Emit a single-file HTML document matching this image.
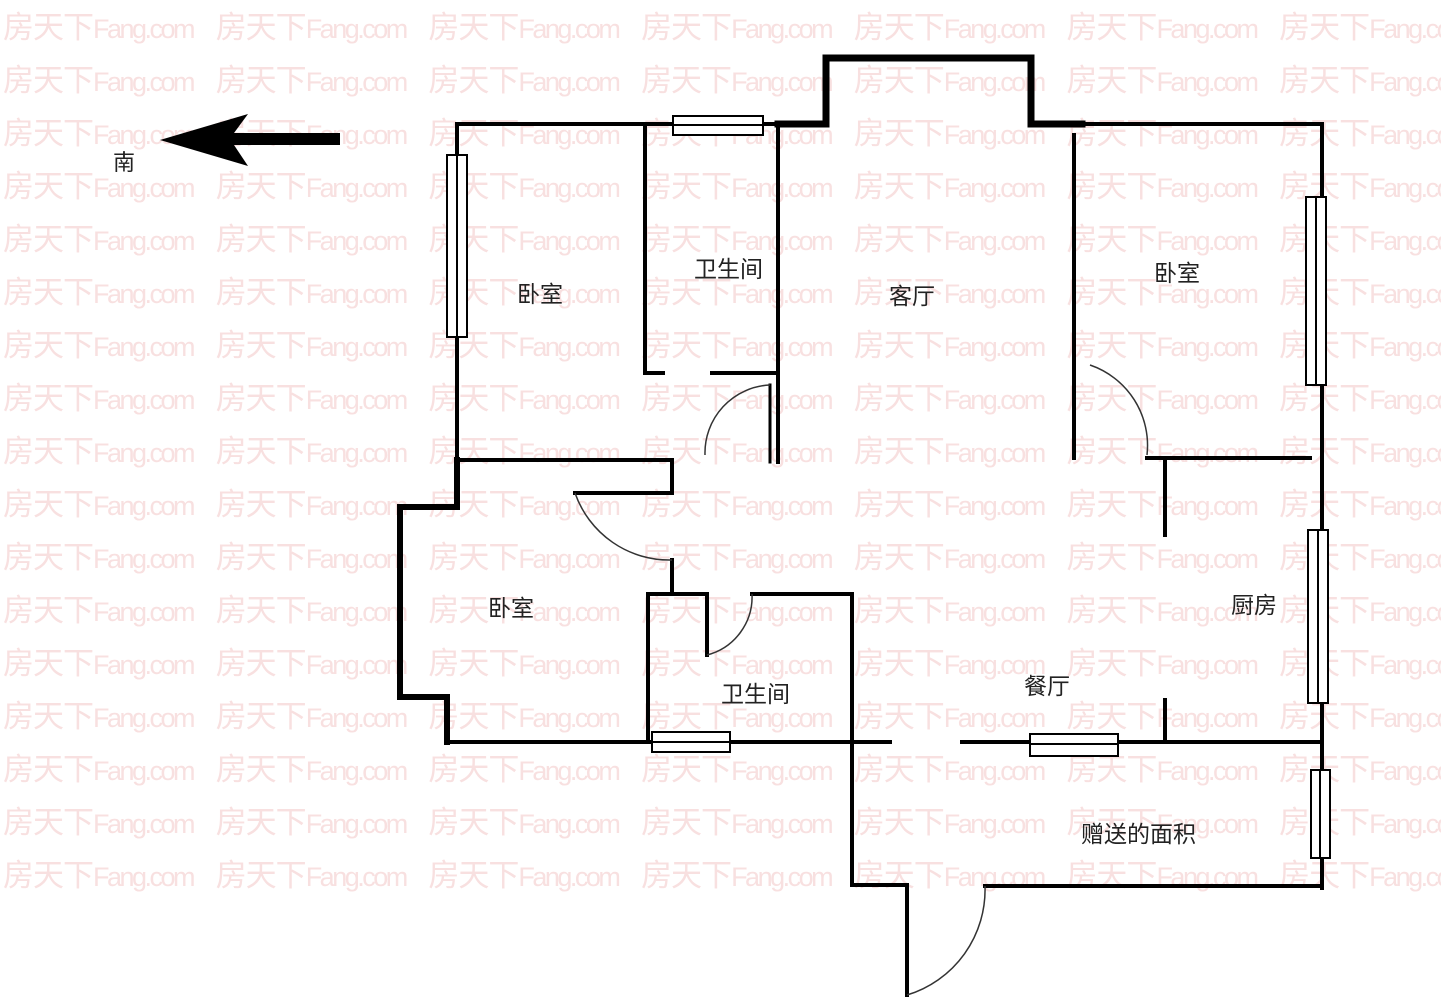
<!DOCTYPE html>
<html><head><meta charset="utf-8"><style>
html,body{margin:0;padding:0;background:#fff;}
#wrap{position:relative;width:1441px;height:1000px;overflow:hidden;background:#fff;}
.wm{position:absolute;left:3px;white-space:nowrap;font-family:"Liberation Sans","Noto Sans CJK SC",sans-serif;font-size:31px;color:#f8e0e0;line-height:36px;}
.wm span{display:inline-block;width:212.7px;letter-spacing:-1px;}
.wm span i{font-style:normal;font-size:27px;letter-spacing:-2.5px;}
svg{position:absolute;left:0;top:0;}
.lb{font-family:"Liberation Sans","Noto Sans CJK SC",sans-serif;font-size:23px;fill:#222;}
</style></head><body><div id="wrap">
<div class="wm" style="top:10px"><span>房天下<i>Fang.com</i></span><span>房天下<i>Fang.com</i></span><span>房天下<i>Fang.com</i></span><span>房天下<i>Fang.com</i></span><span>房天下<i>Fang.com</i></span><span>房天下<i>Fang.com</i></span><span>房天下<i>Fang.com</i></span></div>
<div class="wm" style="top:63px"><span>房天下<i>Fang.com</i></span><span>房天下<i>Fang.com</i></span><span>房天下<i>Fang.com</i></span><span>房天下<i>Fang.com</i></span><span>房天下<i>Fang.com</i></span><span>房天下<i>Fang.com</i></span><span>房天下<i>Fang.com</i></span></div>
<div class="wm" style="top:116px"><span>房天下<i>Fang.com</i></span><span>房天下<i>Fang.com</i></span><span>房天下<i>Fang.com</i></span><span>房天下<i>Fang.com</i></span><span>房天下<i>Fang.com</i></span><span>房天下<i>Fang.com</i></span><span>房天下<i>Fang.com</i></span></div>
<div class="wm" style="top:169px"><span>房天下<i>Fang.com</i></span><span>房天下<i>Fang.com</i></span><span>房天下<i>Fang.com</i></span><span>房天下<i>Fang.com</i></span><span>房天下<i>Fang.com</i></span><span>房天下<i>Fang.com</i></span><span>房天下<i>Fang.com</i></span></div>
<div class="wm" style="top:222px"><span>房天下<i>Fang.com</i></span><span>房天下<i>Fang.com</i></span><span>房天下<i>Fang.com</i></span><span>房天下<i>Fang.com</i></span><span>房天下<i>Fang.com</i></span><span>房天下<i>Fang.com</i></span><span>房天下<i>Fang.com</i></span></div>
<div class="wm" style="top:275px"><span>房天下<i>Fang.com</i></span><span>房天下<i>Fang.com</i></span><span>房天下<i>Fang.com</i></span><span>房天下<i>Fang.com</i></span><span>房天下<i>Fang.com</i></span><span>房天下<i>Fang.com</i></span><span>房天下<i>Fang.com</i></span></div>
<div class="wm" style="top:328px"><span>房天下<i>Fang.com</i></span><span>房天下<i>Fang.com</i></span><span>房天下<i>Fang.com</i></span><span>房天下<i>Fang.com</i></span><span>房天下<i>Fang.com</i></span><span>房天下<i>Fang.com</i></span><span>房天下<i>Fang.com</i></span></div>
<div class="wm" style="top:381px"><span>房天下<i>Fang.com</i></span><span>房天下<i>Fang.com</i></span><span>房天下<i>Fang.com</i></span><span>房天下<i>Fang.com</i></span><span>房天下<i>Fang.com</i></span><span>房天下<i>Fang.com</i></span><span>房天下<i>Fang.com</i></span></div>
<div class="wm" style="top:434px"><span>房天下<i>Fang.com</i></span><span>房天下<i>Fang.com</i></span><span>房天下<i>Fang.com</i></span><span>房天下<i>Fang.com</i></span><span>房天下<i>Fang.com</i></span><span>房天下<i>Fang.com</i></span><span>房天下<i>Fang.com</i></span></div>
<div class="wm" style="top:487px"><span>房天下<i>Fang.com</i></span><span>房天下<i>Fang.com</i></span><span>房天下<i>Fang.com</i></span><span>房天下<i>Fang.com</i></span><span>房天下<i>Fang.com</i></span><span>房天下<i>Fang.com</i></span><span>房天下<i>Fang.com</i></span></div>
<div class="wm" style="top:540px"><span>房天下<i>Fang.com</i></span><span>房天下<i>Fang.com</i></span><span>房天下<i>Fang.com</i></span><span>房天下<i>Fang.com</i></span><span>房天下<i>Fang.com</i></span><span>房天下<i>Fang.com</i></span><span>房天下<i>Fang.com</i></span></div>
<div class="wm" style="top:593px"><span>房天下<i>Fang.com</i></span><span>房天下<i>Fang.com</i></span><span>房天下<i>Fang.com</i></span><span>房天下<i>Fang.com</i></span><span>房天下<i>Fang.com</i></span><span>房天下<i>Fang.com</i></span><span>房天下<i>Fang.com</i></span></div>
<div class="wm" style="top:646px"><span>房天下<i>Fang.com</i></span><span>房天下<i>Fang.com</i></span><span>房天下<i>Fang.com</i></span><span>房天下<i>Fang.com</i></span><span>房天下<i>Fang.com</i></span><span>房天下<i>Fang.com</i></span><span>房天下<i>Fang.com</i></span></div>
<div class="wm" style="top:699px"><span>房天下<i>Fang.com</i></span><span>房天下<i>Fang.com</i></span><span>房天下<i>Fang.com</i></span><span>房天下<i>Fang.com</i></span><span>房天下<i>Fang.com</i></span><span>房天下<i>Fang.com</i></span><span>房天下<i>Fang.com</i></span></div>
<div class="wm" style="top:752px"><span>房天下<i>Fang.com</i></span><span>房天下<i>Fang.com</i></span><span>房天下<i>Fang.com</i></span><span>房天下<i>Fang.com</i></span><span>房天下<i>Fang.com</i></span><span>房天下<i>Fang.com</i></span><span>房天下<i>Fang.com</i></span></div>
<div class="wm" style="top:805px"><span>房天下<i>Fang.com</i></span><span>房天下<i>Fang.com</i></span><span>房天下<i>Fang.com</i></span><span>房天下<i>Fang.com</i></span><span>房天下<i>Fang.com</i></span><span>房天下<i>Fang.com</i></span><span>房天下<i>Fang.com</i></span></div>
<div class="wm" style="top:858px"><span>房天下<i>Fang.com</i></span><span>房天下<i>Fang.com</i></span><span>房天下<i>Fang.com</i></span><span>房天下<i>Fang.com</i></span><span>房天下<i>Fang.com</i></span><span>房天下<i>Fang.com</i></span><span>房天下<i>Fang.com</i></span></div>

<svg width="1441" height="1000" viewBox="0 0 1441 1000">
<g fill="none" stroke="#000" stroke-width="4" stroke-linecap="square">
<path d="M160,140 L248,114 L234,133 L340,133 L340,145 L234,145 L248,166 Z" fill="#000" stroke="none"/>
<path d="M457,460 L457,124 L778,124"/>
<path d="M778,124 L826,124 L826,58 L1031,58 L1031,124 L1082,124" stroke-width="7"/>
<path d="M1082,124 L1322,124 L1322,888"/>
<path d="M457,460 L457,507 L400,507 L400,697 L447,697 L447,742" stroke-width="6"/>
<path d="M447,742 L890,742"/>
<path d="M962,742 L1322,742"/>
<path d="M645,124 L645,373 L663,373"/>
<path d="M712,373 L778,373"/>
<path d="M778,124 L778,462"/>
<path d="M770,385 L770,462" stroke-width="3"/>
<path d="M457,460 L672,460 L672,493 L575,493"/>
<path d="M672,560 L672,592"/>
<path d="M648,742 L648,594 L707,594 L707,655"/>
<path d="M752,594 L852,594 L852,885 L907,885 L907,995"/>
<path d="M985,886 L1322,886"/>
<path d="M1074,135 L1074,458"/>
<path d="M1147,458 L1310,458"/>
<path d="M1165,458 L1165,535"/>
<path d="M1165,700 L1165,742"/>
</g>
<g fill="none" stroke="#333" stroke-width="1.5">
<path d="M770,385 A68,68 0 0 0 705,455"/>
<path d="M575,493 A100,100 0 0 0 672,560"/>
<path d="M707,655 A60,60 0 0 0 752,594"/>
<path d="M1090,365 A85,85 0 0 1 1147,455"/>
<path d="M985,886 A110,110 0 0 1 907,995"/>
</g>
<g fill="#fff" stroke="#000" stroke-width="2">
<rect x="673" y="116" width="90" height="19"/><line x1="673" y1="125" x2="763" y2="125"/>
<rect x="447" y="155" width="20" height="182"/><line x1="457" y1="155" x2="457" y2="337"/>
<rect x="1306" y="197" width="20" height="188"/><line x1="1316" y1="197" x2="1316" y2="385"/>
<rect x="1308" y="530" width="20" height="173"/><line x1="1318" y1="530" x2="1318" y2="703"/>
<rect x="1311" y="770" width="19" height="88"/><line x1="1320" y1="770" x2="1320" y2="858"/>
<rect x="652" y="732" width="78" height="20"/><line x1="652" y1="742" x2="730" y2="742"/>
<rect x="1030" y="734" width="88" height="22"/><line x1="1030" y1="744" x2="1118" y2="744"/>
</g>
<g class="lb">
<text x="113" y="170" font-size="22">南</text>
<text x="517" y="302">卧室</text>
<text x="694" y="277">卫生间</text>
<text x="889" y="304">客厅</text>
<text x="1154" y="281">卧室</text>
<text x="488" y="616">卧室</text>
<text x="721" y="702">卫生间</text>
<text x="1231" y="613">厨房</text>
<text x="1024" y="694">餐厅</text>
<text x="1081" y="842">赠送的面积</text>
</g>
</svg>
</div></body></html>
